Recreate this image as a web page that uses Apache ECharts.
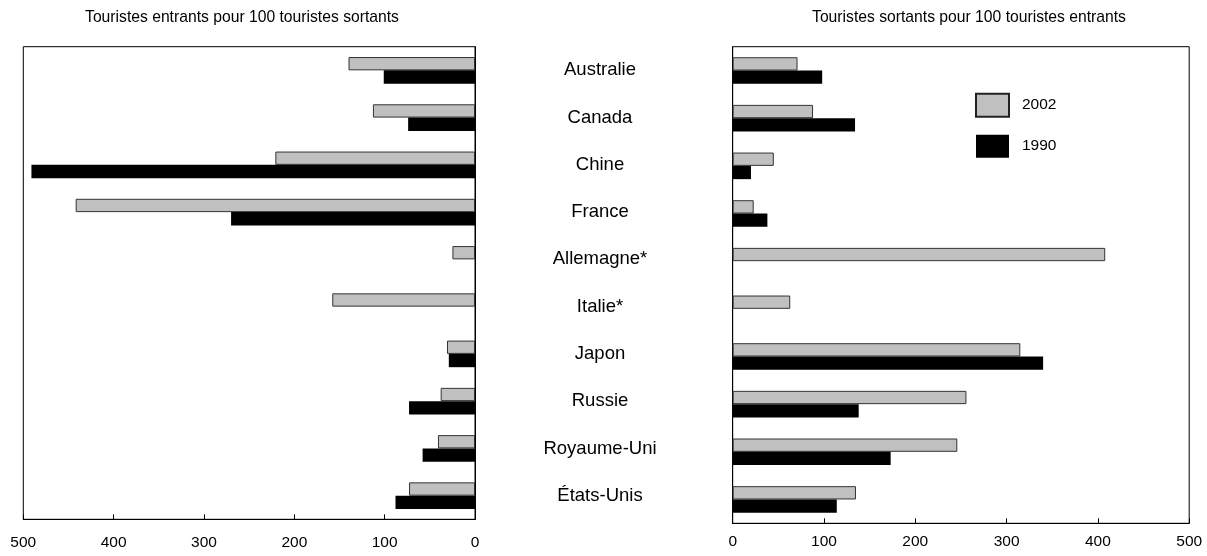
<!DOCTYPE html>
<html>
<head>
<meta charset="utf-8">
<script src="https://cdn.jsdelivr.net/npm/echarts@6/dist/echarts.min.js"></script>
<style>
html,body{margin:0;padding:0;background:#fff;}
#chart{width:1207px;height:556px;}
</style>
</head>
<body>
<div id="chart"></div>
<script>
var categories = ['Australie','Canada','Chine','France','Allemagne*','Italie*','Japon','Russie','Royaume-Uni','États-Unis'];
var leftTitle = 'Touristes entrants pour 100 touristes sortants';
var rightTitle = 'Touristes sortants pour 100 touristes entrants';
var seriesNames = ['2002','1990'];
// Touristes entrants pour 100 touristes sortants
var entrants2002 = [140, 113, 221, 442, 25, 158, 31, 38, 41, 73];
var entrants1990 = [101, 74, 491, 270, null, null, 29, 73, 58, 88];
// Touristes sortants pour 100 touristes entrants
var sortants2002 = [71, 88, 45, 23, 408, 63, 315, 256, 246, 135];
var sortants1990 = [98, 134, 20, 38, null, null, 340, 138, 173, 114];

var FONT = 'Arial, "Liberation Sans", sans-serif';
var grayStyle = {color:'#c0c0c0', borderColor:'#333', borderWidth:1};
var blackStyle = {color:'#000'};

var chart = echarts.init(document.getElementById('chart'), null, {renderer:'canvas'});
chart.setOption({
  backgroundColor:'#fff',
  animation:false,
  title:[
    {text:leftTitle, left:237, top:5, textAlign:'center',
     textStyle:{fontFamily:FONT, fontSize:15.7, fontWeight:'normal', color:'#000'}},
    {text:rightTitle, left:964, top:5, textAlign:'center',
     textStyle:{fontFamily:FONT, fontSize:15.7, fontWeight:'normal', color:'#000'}}
  ],
  legend:{
    orient:'vertical', left:970, top:87.7,
    icon:'rect',
    itemWidth:33, itemHeight:23, itemGap:17,
    data:[{name:seriesNames[0], itemStyle:{borderWidth:2, borderColor:'#222'}}, {name:seriesNames[1]}],
    textStyle:{fontFamily:FONT, fontSize:15.5, color:'#000', padding:[0,0,0,8]}
  },
  grid:[
    {left:23.3, top:46.7, width:451.7, height:472.6, show:true, borderColor:'#000', borderWidth:1, containLabel:false},
    {left:732.7, top:46.7, width:456.5, height:476.6, show:true, borderColor:'#000', borderWidth:1, containLabel:false}
  ],
  xAxis:[
    {gridIndex:0, type:'value', min:0, max:500, interval:100, inverse:true,
     axisLine:{show:true, lineStyle:{color:'#000'}},
     axisTick:{show:true, inside:true, length:5, lineStyle:{color:'#000'}},
     splitLine:{show:false},
     axisLabel:{fontFamily:FONT, fontSize:15.5, color:'#000', margin:15}},
    {gridIndex:1, type:'value', min:0, max:500, interval:100,
     axisLine:{show:true, lineStyle:{color:'#000'}},
     axisTick:{show:true, inside:true, length:5, lineStyle:{color:'#000'}},
     splitLine:{show:false},
     axisLabel:{fontFamily:FONT, fontSize:15.5, color:'#000', margin:10}}
  ],
  yAxis:[
    {gridIndex:0, type:'category', data:categories, inverse:true, position:'right',
     axisLine:{show:true, lineStyle:{color:'#000'}},
     axisTick:{show:false},
     axisLabel:{fontFamily:FONT, fontSize:18.5, color:'#000', margin:125, align:'center'}},
    {gridIndex:1, type:'category', data:categories, inverse:true, position:'left',
     axisLine:{show:true, lineStyle:{color:'#000'}},
     axisTick:{show:false},
     axisLabel:{show:false}}
  ],
  series:[
    {name:seriesNames[0], type:'bar', xAxisIndex:0, yAxisIndex:0, data:entrants2002, barWidth:13.3, barGap:'0%', itemStyle:grayStyle},
    {name:seriesNames[1], type:'bar', xAxisIndex:0, yAxisIndex:0, data:entrants1990, barWidth:13.3, barGap:'0%', itemStyle:blackStyle},
    {name:seriesNames[0], type:'bar', xAxisIndex:1, yAxisIndex:1, data:sortants2002, barWidth:13.3, barGap:'0%', itemStyle:grayStyle},
    {name:seriesNames[1], type:'bar', xAxisIndex:1, yAxisIndex:1, data:sortants1990, barWidth:13.3, barGap:'0%', itemStyle:blackStyle}
  ]
});
</script>
</body>
</html>
